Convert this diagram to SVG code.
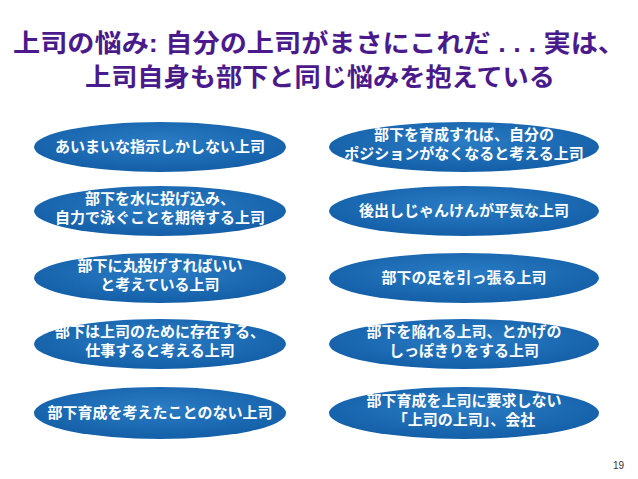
<svg xmlns="http://www.w3.org/2000/svg" width="638" height="479" viewBox="0 0 638 479">
<defs>
<radialGradient id="g" cx="50%" cy="40%" r="60%"><stop offset="0" stop-color="#2a7cc4"/><stop offset="1" stop-color="#135fa8"/></radialGradient>
<style>
.e{fill:url(#g);}
.t{font-family:"Liberation Sans","Noto Sans CJK JP",sans-serif;font-size:15px;font-weight:bold;fill:#fff;text-anchor:middle;}
.h{font-family:"Liberation Sans","Noto Sans CJK JP",sans-serif;font-size:25px;font-weight:bold;fill:#4a1a8c;text-anchor:middle;}
</style>
</defs>
<rect width="638" height="479" fill="#fff"/>
<text class="h" x="319" y="52" textLength="612" lengthAdjust="spacingAndGlyphs">上司の悩み: 自分の上司がまさにこれだ . . . 実は、</text>
<text class="h" x="320" y="86" textLength="470" lengthAdjust="spacingAndGlyphs">上司自身も部下と同じ悩みを抱えている</text>
<g id="n1"><ellipse class="e" cx="160" cy="147" rx="126" ry="25"/><text class="t" x="160" y="152">あいまいな指示しかしない上司</text></g>
<g id="n2"><ellipse class="e" cx="464" cy="147" rx="135" ry="25"/><text class="t" x="464" y="140">部下を育成すれば、自分の</text><text class="t" x="464" y="159">ポジションがなくなると考える上司</text></g>
<g id="n3"><ellipse class="e" cx="160" cy="211" rx="126" ry="25"/><text class="t" x="160" y="204">部下を水に投げ込み、</text><text class="t" x="160" y="223">自力で泳ぐことを期待する上司</text></g>
<g id="n4"><ellipse class="e" cx="464" cy="211" rx="135" ry="25"/><text class="t" x="464" y="216">後出しじゃんけんが平気な上司</text></g>
<g id="n5"><ellipse class="e" cx="160" cy="278" rx="126" ry="25"/><text class="t" x="160" y="271">部下に丸投げすればいい</text><text class="t" x="160" y="290">と考えている上司</text></g>
<g id="n6"><ellipse class="e" cx="464" cy="278" rx="135" ry="25"/><text class="t" x="464" y="283">部下の足を引っ張る上司</text></g>
<g id="n7"><ellipse class="e" cx="160" cy="344" rx="126" ry="25"/><text class="t" x="160" y="337">部下は上司のために存在する、</text><text class="t" x="160" y="356">仕事すると考える上司</text></g>
<g id="n8"><ellipse class="e" cx="464" cy="344" rx="135" ry="25"/><text class="t" x="464" y="337">部下を陥れる上司、とかげの</text><text class="t" x="464" y="356">しっぽきりをする上司</text></g>
<g id="n9"><ellipse class="e" cx="160" cy="413" rx="126" ry="26"/><text class="t" x="160" y="418">部下育成を考えたことのない上司</text></g>
<g id="n10"><ellipse class="e" cx="464" cy="413" rx="135" ry="26"/><text class="t" x="464" y="406">部下育成を上司に要求しない</text><text class="t" x="464" y="425">「上司の上司」、会社</text></g>
<g id="connectors"/>
<text x="624" y="469" font-family="Liberation Sans,sans-serif" font-size="10" fill="#333" text-anchor="end">19</text>
</svg>
